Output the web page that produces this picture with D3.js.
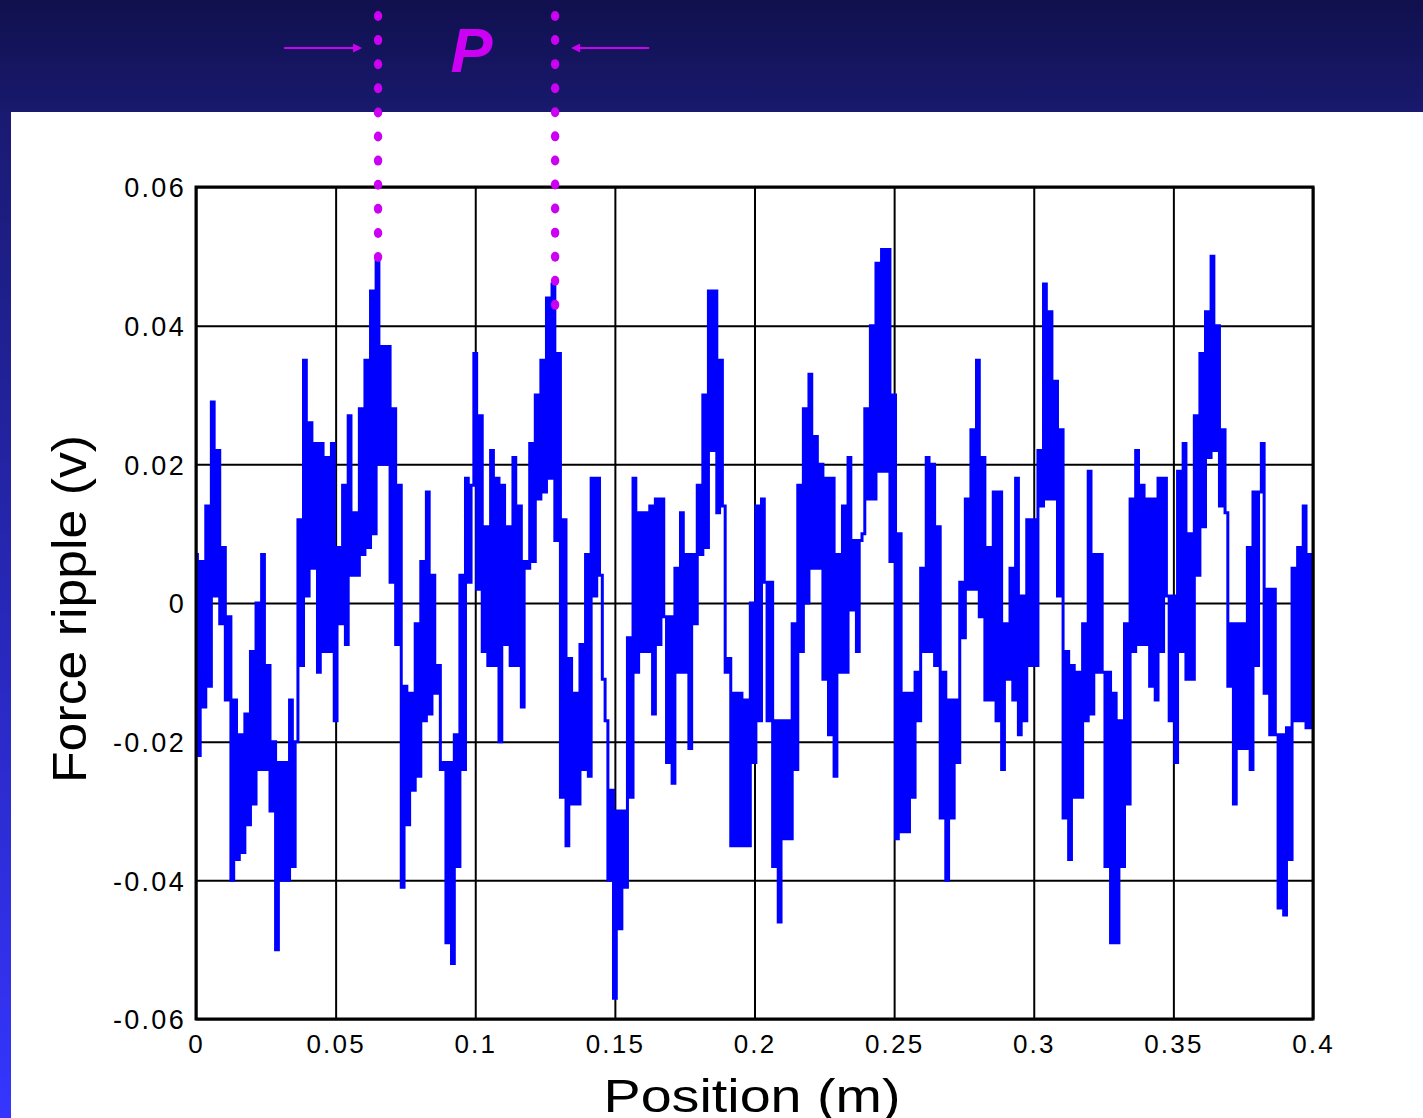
<!DOCTYPE html>
<html>
<head>
<meta charset="utf-8">
<script src="https://cdn.jsdelivr.net/npm/d3@7"></script>
<style>
html,body{margin:0;padding:0;background:#ffffff;overflow:hidden}
svg{display:block}
</style>
</head>
<body>
<svg id="chart" width="1423" height="1118"></svg>
<script>
// ---------- DATA ----------
const positionStep = 0.001; // metres between samples (position = index * step)
// force ripple, in thousandths of a volt (mV)
const forceRippleMilli = [
  7, -22, 6, -15, 14, -12, 29, 1, 22, -3,
  8, -14, -2, -40, -14, -37, -19, -36, -16, -32,
  -7, -29, 0, -24, 7, -24, -9, -30, -20, -50,
  -23, -40, -23, -40, -14, -38, -20, 12, -9, 35,
  1, 26, 5, 23, -10, 23, -7, 21, -7, 23,
  -17, 8, -3, 17, -6, 27, 4, 13, 4, 28,
  7, 35, 8, 45, 10, 50, 20, 37, 20, 37,
  3, 28, -6, 17, -41, -12, -32, -13, -27, -3,
  -25, 6, -17, 16, -16, 4, -13, -9, -24, -23,
  -49, -23, -52, -19, -38, 4, -24, 18, 3, 17,
  36, 2, 27, -7, 11, -9, 22, -9, 18, -20,
  17, -6, 11, -9, 21, -9, 14, -15, 6, 5,
  23, 6, 30, 15, 35, 16, 44, 18, 46, 9,
  36, -28, 12, -35, -8, -29, -13, -29, -6, -24,
  7, -25, 18, 1, 18, 4, -11, -17, -40, -27,
  -57, -30, -47, -30, -41, -5, -28, 18, -10, 13,
  -7, 13, -7, 14, -16, 15, -6, 15, -2, -23,
  -2, -26, 5, -10, 13, -10, 7, -21, 7, -3,
  17, 7, 30, 8, 45, 22, 45, 13, 35, 14,
  -10, -8, -35, -13, -35, -13, -35, -14, -35, 0,
  -23, 14, -17, 15, 3, -17, 3, -38, -17, -46,
  -17, -34, -17, -34, -3, -24, 17, -7, 28, 0,
  33, 5, 24, 5, 20, -11, 18, -19, 18, -25,
  7, -10, 14, -10, 21, -1, 9, -7, 9, 10,
  28, 15, 40, 15, 49, 19, 51, 19, 51, 6,
  30, -34, 10, -33, -13, -33, -13, -28, -10, -17,
  5, -7, 21, -7, 20, -9, 11, -31, -10, -40,
  -14, -31, -14, -23, 3, -5, 15, 2, 25, 2,
  35, -2, 21, -14, 8, -14, 16, -17, 16, -24,
  -3, -11, 5, -14, 18, -19, 1, -17, 12, -9,
  12, -9, 22, 14, 46, 15, 42, 15, 32, 1,
  25, -31, -7, -37, -9, -28, -10, -28, -3, -17,
  19, -16, 7, -10, 7, -10, -38, -10, -49, -13,
  -49, -17, -38, -3, -29, 15, -7, 22, -6, 17,
  -6, 15, -12, 15, -14, 18, -7, 18, 1, -17,
  1, -23, 19, -7, 23, -11, 10, -11, 27, 4,
  36, 11, 42, 21, 50, 22, 40, 14, 25, 13,
  -12, -3, -29, -3, -21, -3, -21, 8, -24, 16,
  -9, 16, 23, -13, 2, -19, 2, -19, -44, -19,
  -45, -18, -37, 5, -17, 8, -17, 14, -18, 7,
  -18
];
const xTicks = [0, 0.05, 0.1, 0.15, 0.2, 0.25, 0.3, 0.35, 0.4];
const xTickLabels = ["0", "0.05", "0.1", "0.15", "0.2", "0.25", "0.3", "0.35", "0.4"];
const yTicks = [-0.06, -0.04, -0.02, 0, 0.02, 0.04, 0.06];
const yTickLabels = ["-0.06", "-0.04", "-0.02", "0", "0.02", "0.04", "0.06"];
const periodMarkerPositions = [0.0652, 0.1286];   // m
const periodMarkerTops = [0.0499, 0.043];          // v (where the dotted line stops)
const periodLabel = "P";
const xTitle = "Position (m)";
const yTitle = "Force ripple (v)";

// ---------- LAYOUT / STYLE ----------
const W = 1423, H = 1118;
const plot = {left: 196, right: 1313, top: 187, bottom: 1019};
const headerH = 112;
const stripW = 11;
const magenta = "#cc00f2";
const lineBlue = "#0000ff";
const font = "'Liberation Sans', Arial, Helvetica, sans-serif";

const svg = d3.select("#chart");
const defs = svg.append("defs");

const hg = defs.append("linearGradient").attr("id", "hdr").attr("x1", 0).attr("y1", 0).attr("x2", 0).attr("y2", 1);
hg.append("stop").attr("offset", 0).attr("stop-color", "#10104e");
hg.append("stop").attr("offset", 1).attr("stop-color", "#19196e");
const sg = defs.append("linearGradient").attr("id", "strip").attr("x1", 0).attr("y1", 0).attr("x2", 0).attr("y2", 1);
sg.append("stop").attr("offset", 0).attr("stop-color", "#1a1a72");
sg.append("stop").attr("offset", 1).attr("stop-color", "#3535ff");

svg.append("rect").attr("x", 0).attr("y", 0).attr("width", W).attr("height", H).attr("fill", "#ffffff");
svg.append("rect").attr("x", 0).attr("y", 0).attr("width", W).attr("height", headerH).attr("fill", "url(#hdr)");
svg.append("rect").attr("x", 0).attr("y", headerH).attr("width", stripW).attr("height", H - headerH).attr("fill", "url(#strip)");

const x = d3.scaleLinear().domain([0, 0.4]).range([plot.left, plot.right]);
const y = d3.scaleLinear().domain([-0.06, 0.06]).range([plot.bottom, plot.top]);

// axes + grid
const yAxis = d3.axisLeft(y).tickValues(yTicks).tickFormat((d, i) => yTickLabels[i])
  .tickSize(-(plot.right - plot.left)).tickPadding(10);
const gy = svg.append("g").attr("transform", `translate(${plot.left},0)`).call(yAxis);
gy.select(".domain").remove();
gy.selectAll(".tick line").attr("stroke", "#000").attr("stroke-width", 2);
gy.selectAll(".tick text").attr("fill", "#000").style("font-family", font)
  .style("font-size", "27px").style("letter-spacing", "2.3px").attr("dy", "0.36em");

const xAxis = d3.axisBottom(x).tickValues(xTicks).tickFormat((d, i) => xTickLabels[i])
  .tickSize(-(plot.bottom - plot.top)).tickPadding(16);
const gx = svg.append("g").attr("transform", `translate(0,${plot.bottom})`).call(xAxis);
gx.select(".domain").remove();
gx.selectAll(".tick line").attr("stroke", "#000").attr("stroke-width", 2);
gx.selectAll(".tick text").attr("fill", "#000").style("font-family", font)
  .style("font-size", "26px").style("letter-spacing", "2.2px");

// data line (dense trace drawn as vertical strokes)
const series = forceRippleMilli.map((v, i) => ({pos: i * positionStep, val: v / 1000}));
svg.append("path").datum(series)
  .attr("fill", "none").attr("stroke", lineBlue).attr("stroke-width", 3)
  .attr("stroke-linejoin", "miter")
  .attr("d", d3.line().curve(d3.curveStep).x(d => x(d.pos)).y(d => y(d.val)));

// frame
svg.append("rect").attr("x", plot.left).attr("y", plot.top)
  .attr("width", plot.right - plot.left).attr("height", plot.bottom - plot.top)
  .attr("fill", "none").attr("stroke", "#000").attr("stroke-width", 3);

// titles
svg.append("text").attr("x", 752).attr("y", 1112).attr("text-anchor", "middle")
  .attr("textLength", 297).attr("lengthAdjust", "spacingAndGlyphs")
  .style("font-family", font).style("font-size", "46px").attr("fill", "#000").text(xTitle);
svg.append("text").attr("transform", "translate(86,609) rotate(-90)").attr("text-anchor", "middle")
  .attr("textLength", 348).attr("lengthAdjust", "spacingAndGlyphs")
  .style("font-family", font).style("font-size", "48px").attr("fill", "#000").text(yTitle);

// period annotation
const dotTop = 16, dotGap = 24.1;
periodMarkerPositions.forEach((p, k) => {
  const cx = x(p);
  const endY = y(periodMarkerTops[k]);
  const n = Math.round((endY - dotTop) / dotGap) + 1;
  const gap = (endY - dotTop) / (n - 1);
  svg.append("g").selectAll("ellipse").data(d3.range(n)).join("ellipse")
    .attr("cx", cx).attr("cy", j => dotTop + j * gap)
    .attr("rx", 4.2).attr("ry", 5).attr("fill", magenta);
});
const arrowY = 48, arrowLen = 78, arrowGap = 16;
function arrow(x1, x2) {
  const dir = Math.sign(x2 - x1);
  svg.append("line").attr("x1", x1).attr("y1", arrowY).attr("x2", x2 - dir * 6).attr("y2", arrowY)
    .attr("stroke", magenta).attr("stroke-width", 2);
  svg.append("path").attr("fill", magenta)
    .attr("d", `M${x2},${arrowY} L${x2 - dir * 9},${arrowY - 4.5} L${x2 - dir * 9},${arrowY + 4.5} Z`);
}
const lx = x(periodMarkerPositions[0]), rx = x(periodMarkerPositions[1]);
arrow(lx - arrowGap - arrowLen, lx - arrowGap);
arrow(rx + arrowGap + arrowLen, rx + arrowGap);
svg.append("text").attr("x", (lx + rx) / 2 + 5).attr("y", 72).attr("text-anchor", "middle")
  .style("font-family", font).style("font-size", "63px").style("font-weight", "bold").style("font-style", "italic")
  .attr("fill", magenta).text(periodLabel);
</script>
</body>
</html>
